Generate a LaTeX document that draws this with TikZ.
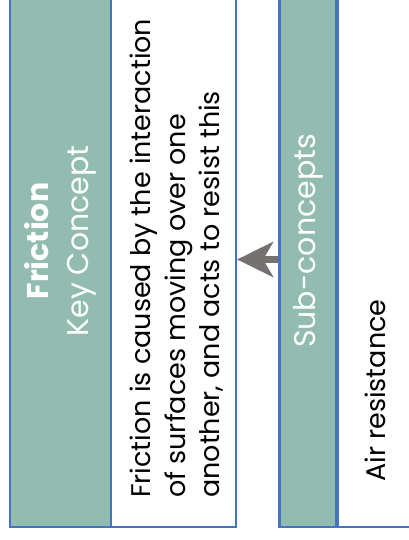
\documentclass[tikz,border=0pt]{standalone}
\usepackage{fontspec}
\setmainfont{Poppins}
\usetikzlibrary{arrows.meta}
\definecolor{bordblue}{HTML}{4472C4}
\definecolor{headgreen}{HTML}{93BCB1}
\definecolor{arrgray}{HTML}{767171}
\tikzset{
  headbox/.style={draw=bordblue, fill=headgreen, line width=2.2pt, rotate=90,
    text=white, align=center, inner sep=0pt,
    font=\fontsize{30}{40}\selectfont},
  bodybox/.style={draw=bordblue, fill=white, line width=2.2pt, rotate=90, inner sep=0pt},
  bodytext/.style={rotate=90, anchor=north west, inner sep=0pt, align=left,
    font=\fontsize{27}{34.5}\selectfont, text=black},
  arr/.style={draw=arrgray, line width=7pt,
    -{Stealth[length=36pt,width=35pt,inset=10pt]}}
}
\begin{document}
\begin{tikzpicture}[x=1pt,y=1pt]
\useasboundingbox (0,0) rectangle (409,540);
\clip (0,0) rectangle (409,540);
% left concept
\node[headbox, minimum width=572.5pt, minimum height=101pt] (kc) at (60.5,299) {\textbf{Friction}\\Key Concept};
\node[bodybox, minimum width=572.5pt, minimum height=125pt] (def) at (173.5,299) {};
\node[bodytext] (deftext) at (130,42) {Friction is caused by the interaction\\of surfaces moving over one\\another, and acts to resist this};
% right sub-concepts
\node[headbox, minimum width=572.5pt, minimum height=57pt] (sub) at (308,299) {Sub-concepts};
\node[bodybox, minimum width=572.5pt, minimum height=200pt, anchor=north] (subbody) at (336.5,299) {};
\node[bodytext] (air) at (365,58) {Air resistance};
% arrow
\coordinate (ay) at (0,280.5);
\draw[arr] (sub.north |- ay) -- (def.south |- ay);
\end{tikzpicture}
\end{document}
